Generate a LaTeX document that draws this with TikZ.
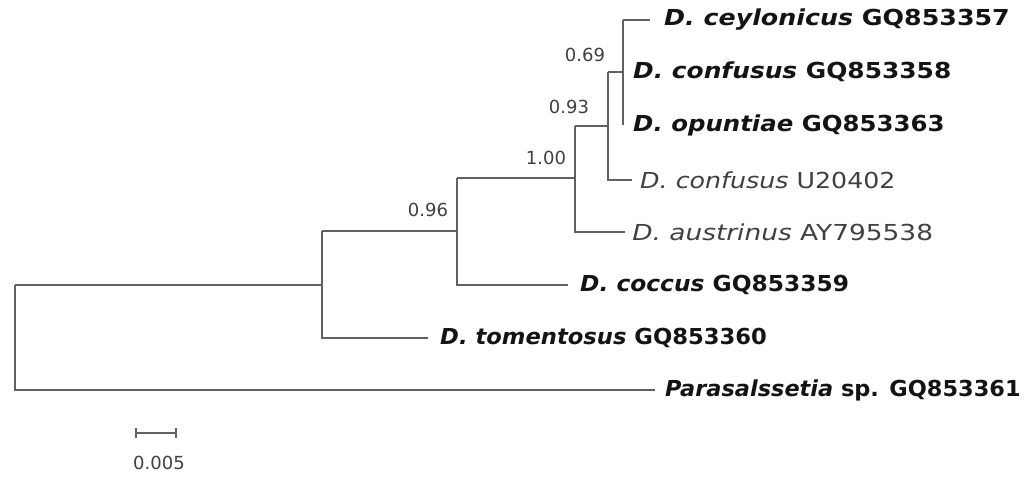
\documentclass[tikz,border=0pt]{standalone}
\usepackage{fontspec}
\setmainfont{DejaVu Sans}
\begin{document}
\begin{tikzpicture}[x=1pt,y=-1pt,
  br/.style={draw=black!62,line width=1.8pt},
  sx/.style={xscale=#1,transform shape},
  tipb/.style={anchor=west,inner sep=0pt,text=black!92,font=\fontsize{22}{24}\selectfont\bfseries},
  tipr/.style={anchor=west,inner sep=0pt,text=black!75,font=\fontsize{22}{24}\selectfont},
  supp/.style={inner sep=0pt,text=black!75,font=\fontsize{18}{20}\selectfont}]
\useasboundingbox (0,0) rectangle (1024,498);
% internal nodes
\coordinate (root) at (15,338);
\coordinate (nt) at (322,285);
\coordinate (n96) at (457,231);
\coordinate (n100) at (575,178);
\coordinate (n93) at (608,126);
\coordinate (n69) at (623,72);
% tips
\coordinate (t1) at (650,20);
\coordinate (t2) at (623,72);
\coordinate (t3) at (623,125);
\coordinate (t4) at (632,180);
\coordinate (t5) at (625,232);
\coordinate (t6) at (568,285);
\coordinate (t7) at (428,338);
\coordinate (t8) at (655,390);
% branches
\draw[br] (root |- nt) -- (nt |- nt);
\draw[br] (root |- nt) -- (root |- t8) -- (t8);
\draw[br] (nt |- n96) -- (nt |- t7) -- (t7);
\draw[br] (nt |- n96) -- (n96 |- n96);
\draw[br] (n96 |- n100) -- (n96 |- t6) -- (t6);
\draw[br] (n96 |- n100) -- (n100 |- n100);
\draw[br] (n100 |- n93) -- (n100 |- t5) -- (t5);
\draw[br] (n100 |- n93) -- (n93 |- n93);
\draw[br] (n93 |- n69) -- (n93 |- t4) -- (t4);
\draw[br] (n93 |- n69) -- (n69);
\draw[br] (n69 |- t1) -- (t1);
\draw[br] (n69 |- t1) -- (n69 |- t3);
% labels
\node[tipb,sx=1.15] (l1) at ([xshift=14pt]t1) {\textit{D. ceylonicus} GQ853357};
\node[tipb,sx=1.13] (l2) at ([xshift=10pt]t2) {\textit{D. confusus} GQ853358};
\node[tipb,sx=1.11] (l3) at ([xshift=10pt]t3) {\textit{D. opuntiae} GQ853363};
\node[tipr,sx=1.15] (l4) at ([xshift=8pt]t4) {\textit{D. confusus} U20402};
\node[tipr,sx=1.2] (l5) at ([xshift=7pt]t5) {\textit{D. austrinus} AY795538};
\node[tipb,sx=1.06] (l6) at ([xshift=12pt]t6) {\textit{D. coccus} GQ853359};
\node[tipb,sx=1.03] (l7) at ([xshift=12pt]t7) {\textit{D. tomentosus} GQ853360};
\node[tipb,sx=1.02] (l8) at ([xshift=10pt]t8) {\textit{Parasalssetia} sp. GQ853361};
% support values
\node[supp] (s69) at (585,55) {0.69};
\node[supp] (s93) at (569,107) {0.93};
\node[supp] (s100) at (546,158) {1.00};
\node[supp] (s96) at (428,210) {0.96};
% scale bar
\coordinate (sa) at (136,433);
\coordinate (sb) at (176,433);
\draw[draw=black!62,line width=1.4pt] (sa) -- (sb);
\draw[draw=black!62,line width=1.4pt] ([yshift=-5pt]sa) -- ([yshift=5pt]sa);
\draw[draw=black!62,line width=1.4pt] ([yshift=-5pt]sb) -- ([yshift=5pt]sb);
\node[supp] (sl) at (159,463) {0.005};
\end{tikzpicture}
\end{document}
